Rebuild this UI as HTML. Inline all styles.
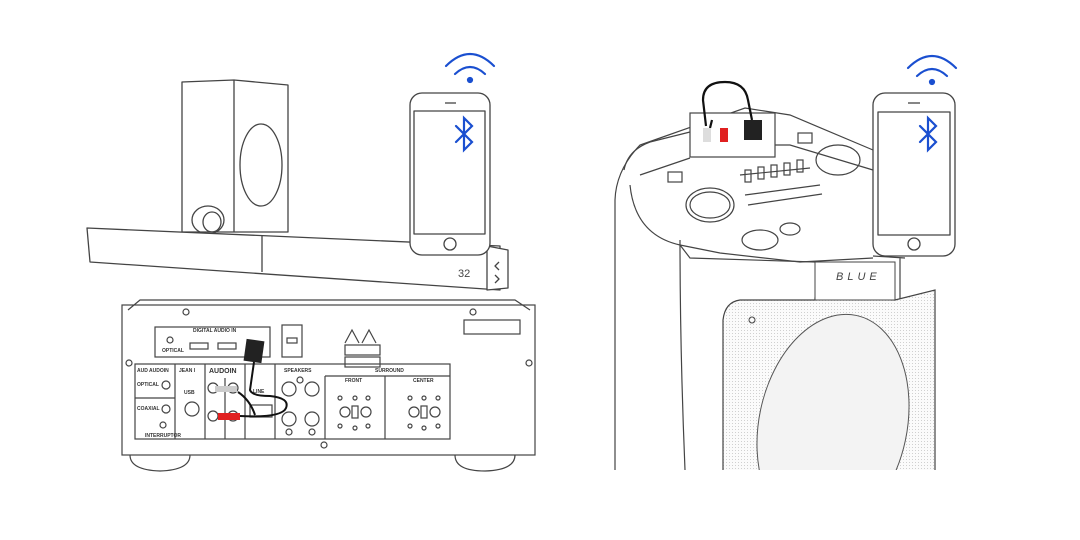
<!DOCTYPE html>
<html><head><meta charset="utf-8"><style>
html,body{margin:0;padding:0;background:#fff;}
svg{display:block;font-family:"Liberation Sans",sans-serif;}
</style></head><body>
<svg width="1080" height="540" viewBox="0 0 1080 540" xmlns="http://www.w3.org/2000/svg">
<defs>
<pattern id="dots" width="3" height="3" patternUnits="userSpaceOnUse"><rect width="3" height="3" fill="#fbfbfb"/><rect width="1" height="1" fill="#d0d0d0"/></pattern>
<clipPath id="cl"><rect x="0" y="0" width="1080" height="470"/></clipPath>
</defs>
<g fill="none" stroke="#444" stroke-width="1.3" stroke-linejoin="round">
<!-- subwoofer -->
<path d="M182 82 L234 80 L288 85 L288 232 L182 232 Z" fill="#fff"/>
<path d="M234 80 L234 232"/>
<ellipse cx="261" cy="165" rx="21" ry="41"/>
<ellipse cx="208" cy="220" rx="16" ry="14"/><ellipse cx="212" cy="222" rx="9" ry="10"/>
<!-- soundbar -->
<path d="M87 228 L500 246 L500 290 L90 262 Z" fill="#fff"/>
<path d="M262 236 L262 272"/>
<path d="M487 246 L508 250 L508 288 L487 290 Z" fill="#fff"/>
<path d="M499 262 L495 266 L499 270 M495 275 L499 279 L495 283"/>
<text x="458" y="277" font-size="11" fill="#444" stroke="none">32</text>
<!-- left phone -->
<rect x="410" y="93" width="80" height="162" rx="12" fill="#fff"/>
<rect x="414" y="111" width="71" height="123" fill="#fff"/>
<circle cx="450" cy="244" r="6"/>
<line x1="445" y1="103" x2="456" y2="103"/>
<!-- right phone -->
<rect x="873" y="93" width="82" height="163" rx="12" fill="#fff"/>
<rect x="878" y="112" width="72" height="123" fill="#fff"/>
<circle cx="914" cy="244" r="6"/>
<line x1="908" y1="103" x2="920" y2="103"/>
</g>
<!-- bluetooth + wifi -->
<g fill="none" stroke="#1a4fd0" stroke-width="2.2" stroke-linecap="round">
<path d="M456 126 L472 142 L464 150 L464 118 L472 126 L456 142"/>
<path d="M920 126 L936 142 L928 150 L928 118 L936 126 L920 142"/>
<path d="M446 66 Q470 42 494 66 M455 74 Q470 60 485 74"/><circle cx="470" cy="80" r="2" fill="#1a4fd0"/>
<path d="M908 68 Q932 44 956 68 M917 76 Q932 62 947 76"/><circle cx="932" cy="82" r="2" fill="#1a4fd0"/>
</g>
<!-- receiver -->
<g fill="none" stroke="#444" stroke-width="1.2">
<rect x="122" y="305" width="413" height="150" fill="#fff"/>
<path d="M128 310 L140 300 L515 300 L530 310"/>
<path d="M130 455 Q130 470 160 471 Q190 470 190 455 M455 455 Q455 471 485 471 Q515 470 515 455"/>
<rect x="155" y="327" width="115" height="30"/>
<rect x="282" y="325" width="20" height="32"/><rect x="287" y="338" width="10" height="5"/>
<rect x="345" y="345" width="35" height="10"/><rect x="345" y="357" width="35" height="10"/>
<path d="M345 343 L352 330 L359 343 M362 343 L369 330 L376 343"/>
<rect x="135" y="364" width="315" height="75"/>
<path d="M175 364 V439 M205 364 V439 M225 378 V439 M245 364 V439 M275 364 V439 M325 376 V439 M385 376 V439 M135 398 H175 M325 376 H450"/>
<rect x="464" y="320" width="56" height="14"/>
<rect x="190" y="343" width="18" height="6"/><rect x="218" y="343" width="18" height="6"/>
<circle cx="213" cy="388" r="5"/><circle cx="233" cy="388" r="5"/><circle cx="213" cy="416" r="5"/><circle cx="233" cy="416" r="5"/>
<circle cx="192" cy="409" r="7"/><circle cx="166" cy="385" r="4"/><circle cx="166" cy="409" r="4"/><circle cx="163" cy="425" r="3"/><circle cx="170" cy="340" r="3"/>
<circle cx="289" cy="389" r="7"/><circle cx="312" cy="389" r="7"/><circle cx="289" cy="419" r="7"/><circle cx="312" cy="419" r="7"/>
<circle cx="300" cy="380" r="3"/><circle cx="289" cy="432" r="3"/><circle cx="312" cy="432" r="3"/>
<circle cx="345" cy="412" r="5"/><circle cx="366" cy="412" r="5"/><rect x="352" y="406" width="6" height="12"/>
<circle cx="414" cy="412" r="5"/><circle cx="435" cy="412" r="5"/><rect x="421" y="406" width="6" height="12"/>
<circle cx="340" cy="398" r="2"/><circle cx="355" cy="398" r="2"/><circle cx="368" cy="398" r="2"/><circle cx="410" cy="398" r="2"/><circle cx="424" cy="398" r="2"/><circle cx="438" cy="398" r="2"/>
<circle cx="340" cy="426" r="2"/><circle cx="355" cy="428" r="2"/><circle cx="368" cy="426" r="2"/><circle cx="410" cy="426" r="2"/><circle cx="424" cy="428" r="2"/><circle cx="438" cy="426" r="2"/>
<circle cx="324" cy="445" r="3"/><circle cx="186" cy="312" r="3"/><circle cx="473" cy="312" r="3"/><circle cx="129" cy="363" r="3"/><circle cx="529" cy="363" r="3"/>
<rect x="250" y="405" width="22" height="12"/>
</g>
<g font-size="5" fill="#333" font-weight="bold">
<text x="193" y="332">DIGITAL AUDIO IN</text><text x="162" y="352">OPTICAL</text>
<text x="137" y="372">AUD AUDOIN</text><text x="137" y="386">OPTICAL</text><text x="137" y="410">COAXIAL</text><text x="145" y="437">INTERRUPTOR</text>
<text x="179" y="372">JEAN I</text><text x="184" y="394">USB</text><text x="209" y="373" font-size="7">AUDOIN</text>
<text x="253" y="393">LINE</text><text x="284" y="372">SPEAKERS</text><text x="375" y="372">SURROUND</text>
<text x="345" y="382">FRONT</text><text x="413" y="382">CENTER</text>
</g>
<!-- cables receiver -->
<rect x="245" y="340" width="18" height="22" fill="#222" transform="rotate(8 254 351)"/>
<rect x="215" y="386" width="22" height="6" fill="#ccc"/>
<rect x="218" y="413" width="22" height="7" fill="#e02020"/>
<path d="M254 362 L250 390 Q252 396 270 396 Q290 398 286 408 Q282 418 240 416 M238 392 Q250 400 255 415" fill="none" stroke="#111" stroke-width="2"/>
<!-- party speaker -->
<g fill="none" stroke="#444" stroke-width="1.2">
<path d="M615 470 L615 200 Q616 170 640 145 L660 138 L745 108 L790 115 L873 150"/>
<path d="M624 170 Q628 150 650 142 L690 132"/>
<path d="M680 240 Q680 350 685 470"/>
<path d="M630 185 Q635 235 680 245 L720 253 L800 262 L873 258"/>
<path d="M680 245 L690 258 L815 262"/>
<path d="M640 175 L690 158 M775 145 L790 145 L873 170"/>
<rect x="690" y="113" width="85" height="44" fill="#fff"/>
<ellipse cx="710" cy="205" rx="24" ry="17"/><ellipse cx="710" cy="205" rx="20" ry="13"/>
<ellipse cx="838" cy="160" rx="22" ry="15"/>
<ellipse cx="760" cy="240" rx="18" ry="10"/><ellipse cx="790" cy="229" rx="10" ry="6"/>
<path d="M740 175 L810 168 M745 195 L820 185 M748 205 L822 194"/>
<rect x="745" y="170" width="6" height="12"/><rect x="758" y="167" width="6" height="12"/><rect x="771" y="165" width="6" height="12"/><rect x="784" y="163" width="6" height="12"/><rect x="797" y="160" width="6" height="12"/>
<rect x="668" y="172" width="14" height="10"/><rect x="798" y="133" width="14" height="10"/>
<path d="M873 256 L905 258 M900 258 L900 300"/>
</g>
<g clip-path="url(#cl)">
<path d="M723 320 Q725 302 740 300 L815 300 L815 298 L895 300 L935 290 L935 480 L723 480 Z" fill="url(#dots)" stroke="#444" stroke-width="1.2"/>
<ellipse cx="833" cy="425" rx="74" ry="112" transform="rotate(12 833 425)" fill="#f3f3f3" stroke="#555" stroke-width="1"/>
</g>
<rect x="815" y="262" width="80" height="38" fill="#fff" stroke="#444"/>
<text x="836" y="280" font-size="11" letter-spacing="4" fill="#444" font-style="italic">BLUE</text>
<circle cx="752" cy="320" r="3" fill="none" stroke="#444"/>
<path d="M706 126 L703 100 Q703 82 725 82 Q745 82 748 100 L752 120 M710 128 L712 120" fill="none" stroke="#111" stroke-width="2.2"/>
<rect x="703" y="128" width="8" height="14" fill="#ddd"/><rect x="720" y="128" width="8" height="14" fill="#e02020"/>
<rect x="744" y="120" width="18" height="20" fill="#222"/>
</svg>
</body></html>
